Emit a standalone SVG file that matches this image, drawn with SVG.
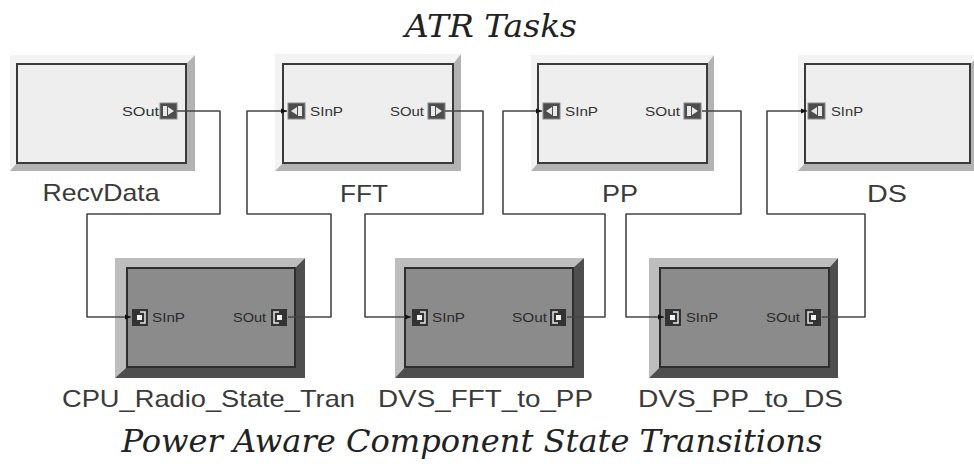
<svg xmlns="http://www.w3.org/2000/svg" xmlns:xlink="http://www.w3.org/1999/xlink" width="974" height="464" viewBox="0 0 974 464">
<style>
.hl{fill:#f3f3f3}
.sh{fill:#b3b3b3}
.lin{fill:#eeeeee;stroke:#3a3a3a;stroke-width:2}
.dhl{fill:#bdbdbd}
.dsh{fill:#4e4e4e}
.din{fill:#8b8b8b;stroke:#2e2e2e;stroke-width:2}
.lbl{font-family:"Liberation Sans",Arial,sans-serif;font-size:24px;fill:#3a3a3a}
.port{font-family:"Liberation Sans",Arial,sans-serif;font-size:13px;fill:#333}
.dport{font-family:"Liberation Sans",Arial,sans-serif;font-size:13px;fill:#2a2a2a}
.title{font-family:"DejaVu Serif","Liberation Serif",serif;font-style:italic;font-size:32px;fill:#222}
.wire{fill:none;stroke:#464646;stroke-width:1.6;stroke-linejoin:round}
</style>
<defs>
<marker id="arr" viewBox="0 0 6 6" refX="6" refY="3" markerWidth="6" markerHeight="6" markerUnits="userSpaceOnUse" orient="auto">
<path d="M0,0.5 L6,3 L0,5.5 Z" fill="#111"/>
</marker>
<g id="pinIn">
<rect x="0" y="0" width="17" height="16" fill="#4d4d4d" stroke="#8a8a8a" stroke-width="1"/>
<rect x="10" y="3" width="4" height="10" fill="#e8e8e8"/>
<path d="M3,8 L9,4 L9,12 Z" fill="#e8e8e8"/>
</g>
<g id="pinOut">
<rect x="0" y="0" width="17" height="16" fill="#4d4d4d" stroke="#8a8a8a" stroke-width="1"/>
<rect x="3" y="3" width="4" height="10" fill="#e8e8e8"/>
<path d="M14,8 L8,4 L8,12 Z" fill="#e8e8e8"/>
</g>
<g id="dpinIn">
<rect x="0" y="0" width="16" height="17" fill="#333"/>
<path d="M8,3 H13 V14 H8" fill="none" stroke="#e6e6e6" stroke-width="1.5"/>
<rect x="5" y="6" width="5" height="5" fill="#f2f2f2"/>
</g>
<g id="dpinOut">
<rect x="0" y="0" width="16" height="17" fill="#333"/>
<path d="M8,3 H3 V14 H8" fill="none" stroke="#e6e6e6" stroke-width="1.5"/>
<rect x="6" y="6" width="5" height="5" fill="#f2f2f2"/>
</g>
</defs>
<rect width="974" height="464" fill="#ffffff"/>

<text class="title" x="491" y="37" text-anchor="middle" textLength="172" lengthAdjust="spacingAndGlyphs">ATR Tasks</text>
<text class="title" x="472" y="452" text-anchor="middle" textLength="701" lengthAdjust="spacingAndGlyphs">Power Aware Component State Transitions</text>

<g id="RecvData">
<polygon class="hl" points="10,55 195,55 186,64 17,64 17,163 10,171"/>
<polygon class="sh" points="195,55 195,171 10,171 17,163 186,163 186,64"/>
<rect class="lin" x="17" y="64" width="169" height="99"/>
<text class="port" x="122" y="116" textLength="37" lengthAdjust="spacingAndGlyphs">SOut</text>
<use xlink:href="#pinOut" x="160" y="103"/>
<text class="lbl" x="101" y="201" text-anchor="middle" textLength="117" lengthAdjust="spacingAndGlyphs">RecvData</text>
</g>

<g id="FFT">
<polygon class="hl" points="275,54 461,54 453,64 283,64 283,163 275,171"/>
<polygon class="sh" points="461,54 461,171 275,171 283,163 453,163 453,64"/>
<rect class="lin" x="283" y="64" width="170" height="99"/>
<use xlink:href="#pinIn" x="288" y="103"/>
<text class="port" x="310" y="116" textLength="33" lengthAdjust="spacingAndGlyphs">SInP</text>
<text class="port" x="390" y="116" textLength="34" lengthAdjust="spacingAndGlyphs">SOut</text>
<use xlink:href="#pinOut" x="428" y="103"/>
<text class="lbl" x="364" y="202" text-anchor="middle" textLength="48" lengthAdjust="spacingAndGlyphs">FFT</text>
</g>

<g id="PP">
<polygon class="hl" points="531,55 714,55 707,64 538,64 538,163 531,171"/>
<polygon class="sh" points="714,55 714,171 531,171 538,163 707,163 707,64"/>
<rect class="lin" x="538" y="64" width="169" height="99"/>
<use xlink:href="#pinIn" x="543" y="103"/>
<text class="port" x="565" y="116" textLength="33" lengthAdjust="spacingAndGlyphs">SInP</text>
<text class="port" x="645" y="116" textLength="35" lengthAdjust="spacingAndGlyphs">SOut</text>
<use xlink:href="#pinOut" x="684" y="103"/>
<text class="lbl" x="620" y="202" text-anchor="middle" textLength="36" lengthAdjust="spacingAndGlyphs">PP</text>
</g>

<g id="DS">
<polygon class="hl" points="798,55 980,55 970,64 805,64 805,163 798,171"/>
<polygon class="sh" points="980,55 980,171 798,171 805,163 970,163 970,64"/>
<rect class="lin" x="805" y="64" width="165" height="99"/>
<use xlink:href="#pinIn" x="808" y="103"/>
<text class="port" x="831" y="116" textLength="32" lengthAdjust="spacingAndGlyphs">SInP</text>
<text class="lbl" x="887" y="202" text-anchor="middle" textLength="40" lengthAdjust="spacingAndGlyphs">DS</text>
</g>

<g id="CPU_Radio_State_Tran">
<polygon class="dhl" points="115,258 305,258 295,268 127,268 127,367 115,378"/>
<polygon class="dsh" points="305,258 305,378 115,378 127,367 295,367 295,268"/>
<rect class="din" x="127" y="268" width="168" height="99"/>
<use xlink:href="#dpinIn" x="132" y="309"/>
<text class="dport" x="152" y="322" textLength="33" lengthAdjust="spacingAndGlyphs">SInP</text>
<text class="dport" x="233" y="322" textLength="33" lengthAdjust="spacingAndGlyphs">SOut</text>
<use xlink:href="#dpinOut" x="271" y="309"/>
<text class="lbl" x="208.5" y="407" text-anchor="middle" textLength="293" lengthAdjust="spacingAndGlyphs">CPU_Radio_State_Tran</text>
</g>

<g id="DVS_FFT_to_PP">
<polygon class="dhl" points="395,258 584,258 573,268 405,268 405,367 395,378"/>
<polygon class="dsh" points="584,258 584,378 395,378 405,367 573,367 573,268"/>
<rect class="din" x="405" y="268" width="168" height="99"/>
<use xlink:href="#dpinIn" x="412" y="309"/>
<text class="dport" x="432" y="322" textLength="33" lengthAdjust="spacingAndGlyphs">SInP</text>
<text class="dport" x="512" y="322" textLength="35" lengthAdjust="spacingAndGlyphs">SOut</text>
<use xlink:href="#dpinOut" x="550" y="309"/>
<text class="lbl" x="485.5" y="407" text-anchor="middle" textLength="215" lengthAdjust="spacingAndGlyphs">DVS_FFT_to_PP</text>
</g>

<g id="DVS_PP_to_DS">
<polygon class="dhl" points="649,258 838,258 829,268 660,268 660,367 649,378"/>
<polygon class="dsh" points="838,258 838,378 649,378 660,367 829,367 829,268"/>
<rect class="din" x="660" y="268" width="169" height="99"/>
<use xlink:href="#dpinIn" x="665" y="309"/>
<text class="dport" x="686" y="322" textLength="32" lengthAdjust="spacingAndGlyphs">SInP</text>
<text class="dport" x="766" y="322" textLength="34" lengthAdjust="spacingAndGlyphs">SOut</text>
<use xlink:href="#dpinOut" x="805" y="309"/>
<text class="lbl" x="740.5" y="407" text-anchor="middle" textLength="205" lengthAdjust="spacingAndGlyphs">DVS_PP_to_DS</text>
</g>

<g id="connectors">
<path class="wire" d="M177,111 H220 V214 H87 V317 H131" marker-end="url(#arr)"/>
<path class="wire" d="M288,317 H331 V214 H247 V111 H287" marker-end="url(#arr)"/>
<path class="wire" d="M445,111 H483 V214 H365 V317 H411" marker-end="url(#arr)"/>
<path class="wire" d="M567,317 H605 V214 H503 V111 H542" marker-end="url(#arr)"/>
<path class="wire" d="M702,111 H741 V214 H626 V317 H664" marker-end="url(#arr)"/>
<path class="wire" d="M822,317 H865 V214 H767 V111 H807" marker-end="url(#arr)"/>
</g>
</svg>
